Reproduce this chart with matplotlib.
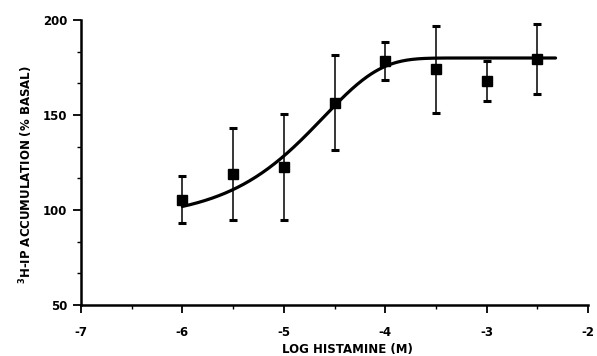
import numpy as np
import matplotlib.pyplot as plt
from matplotlib.ticker import MultipleLocator

# measured points: log[histamine] (M), mean and error (% basal)
log_conc = [-6.0, -5.5, -5.0, -4.5, -4.0, -3.5, -3.0, -2.5]
ip_mean = [105.5, 119.0, 122.5, 156.5, 178.5, 174.0, 168.0, 179.5]
ip_err = [12.5, 24.0, 28.0, 25.0, 10.0, 23.0, 10.5, 18.5]

# fitted concentration-response curve (parameters)
FIT_TOP = 180.0
FIT_SPAN = 85.0
FIT_SLOPE = 1.78
FIT_MID = -4.61
FIT_RANGE = (-6.0, -2.32)

BOLD = dict(fontsize=8.5, fontweight="bold", family="DejaVu Sans")

fig = plt.figure(figsize=(5.97, 3.56), dpi=100)
# right end pulled in a few pixels so the "-2" label stays inside the image
ax = fig.add_axes([81 / 597, 1 - 305 / 356, 507 / 597, 285 / 356])

xf = np.linspace(*FIT_RANGE, 300)
yf = FIT_TOP - FIT_SPAN * np.exp(-np.exp(FIT_SLOPE * (xf - FIT_MID)))
ax.plot(xf, yf, color="black", lw=2.3, solid_capstyle="round", zorder=2)

ax.errorbar(log_conc, ip_mean, yerr=ip_err, fmt="s", color="black", ms=7.5,
            elinewidth=1.1, capsize=3, capthick=2.2, zorder=3)

ax.set_xlim(-7, -2)
ax.set_ylim(50, 200)
ax.xaxis.set_minor_locator(MultipleLocator(0.5))
ax.yaxis.set_minor_locator(MultipleLocator(50 / 3))
ax.set_xticks(range(-7, -1))
ax.set_xticklabels([str(v) for v in range(-7, -1)], **BOLD)
ax.set_yticks([50, 100, 150, 200])
ax.set_yticklabels(["50", "100", "150", "200"], **BOLD)
ax.tick_params(which="major", length=6, width=1.3, pad=4)
ax.tick_params(axis="x", which="major", pad=9)
ax.tick_params(which="minor", length=3, width=1.0)

for side in ("top", "right"):
    ax.spines[side].set_visible(False)
for side in ("left", "bottom"):
    ax.spines[side].set_linewidth(1.8)

fig.text(347 / 597, 1 - 350 / 356, "LOG HISTAMINE (M)", ha="center", va="center", **BOLD)
fig.text(26 / 597, 1 - 175 / 356, r"$^{\mathbf{3}}$H-IP ACCUMULATION (% BASAL)",
         rotation=90, ha="center", va="center", **BOLD)

fig.savefig("out.png", dpi=100)
